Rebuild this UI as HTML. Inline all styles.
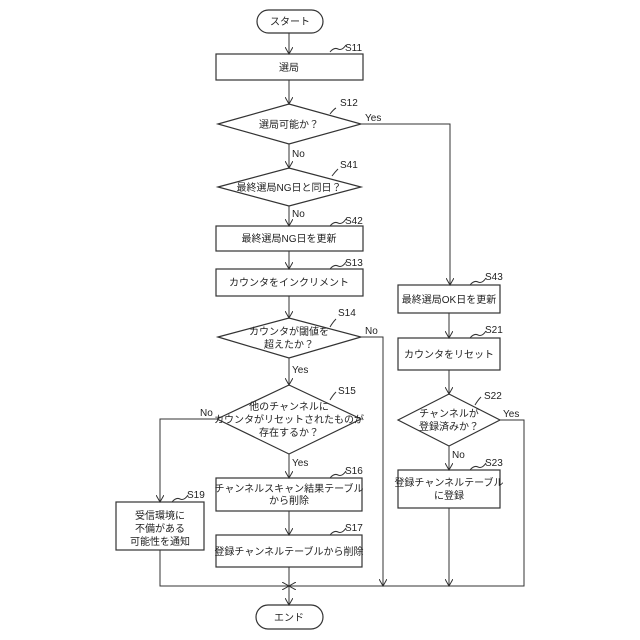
<!DOCTYPE html>
<html><head><meta charset="utf-8"><style>body{margin:0;background:#fff}svg{display:block}text{font-family:"Liberation Sans","Noto Sans CJK JP",sans-serif;fill:#222}</style></head><body>
<svg width="640" height="640" viewBox="0 0 640 640" xmlns="http://www.w3.org/2000/svg">
<defs><marker id="a" markerWidth="8" markerHeight="8" refX="7" refY="4" orient="auto" markerUnits="userSpaceOnUse"><path d="M0,0 L7,4 L0,8" fill="none" stroke="#333" stroke-width="1"/></marker></defs>
<g fill="none" stroke="#333" stroke-width="1.2">
<rect x="257" y="10" width="66" height="23" rx="11.5"/>
<rect x="216" y="54" width="147" height="26"/>
<polygon points="218,124 289,104 361,124 289,144"/>
<polygon points="218,187 289,168 361,187 289,206"/>
<rect x="216" y="226" width="147" height="25"/>
<rect x="216" y="269" width="147" height="27"/>
<polygon points="218,337 289,318 361,337 289,358"/>
<polygon points="217,419 289,385 361,419 289,454"/>
<rect x="216" y="478" width="146" height="33"/>
<rect x="216" y="535" width="146" height="32"/>
<rect x="116" y="502" width="88" height="48"/>
<rect x="398" y="285" width="102" height="28"/>
<rect x="398" y="338" width="102" height="32"/>
<polygon points="398,420 449,394 500,420 449,446"/>
<rect x="398" y="470" width="102" height="38"/>
<rect x="256" y="605" width="67" height="24" rx="12"/>
</g>
<g fill="none" stroke="#333" stroke-width="1">
<line x1="289" y1="33" x2="289" y2="54" marker-end="url(#a)"/>
<line x1="289" y1="80" x2="289" y2="104" marker-end="url(#a)"/>
<line x1="289" y1="144" x2="289" y2="168" marker-end="url(#a)"/>
<line x1="289" y1="206" x2="289" y2="226" marker-end="url(#a)"/>
<line x1="289" y1="251" x2="289" y2="269" marker-end="url(#a)"/>
<line x1="289" y1="296" x2="289" y2="318" marker-end="url(#a)"/>
<line x1="289" y1="358" x2="289" y2="385" marker-end="url(#a)"/>
<line x1="289" y1="454" x2="289" y2="478" marker-end="url(#a)"/>
<line x1="289" y1="511" x2="289" y2="535" marker-end="url(#a)"/>
<line x1="289" y1="567" x2="289" y2="605" marker-end="url(#a)"/>
<polyline points="361,124 450,124 450,285" marker-end="url(#a)"/>
<line x1="449" y1="313" x2="449" y2="338" marker-end="url(#a)"/>
<line x1="449" y1="370" x2="449" y2="394" marker-end="url(#a)"/>
<line x1="449" y1="446" x2="449" y2="470" marker-end="url(#a)"/>
<line x1="449" y1="508" x2="449" y2="586" marker-end="url(#a)"/>
<polyline points="361,337 383,337 383,586" marker-end="url(#a)"/>
<polyline points="217,419 160,419 160,502" marker-end="url(#a)"/>
<polyline points="500,420 524,420 524,586 289,586" marker-end="url(#a)"/>
<polyline points="160,550 160,586 289,586" marker-end="url(#a)"/>
<path d="M330,52 q4,-5 8,-3 t8,-4"/><path d="M330,114 q4,-5 6,-6"/>
<path d="M332,176 q3,-4 6,-7"/><path d="M330,226 q4,-5 8,-3 t8,-4"/>
<path d="M330,269 q4,-5 8,-3 t8,-4"/><path d="M330,327 q3,-5 6,-8"/>
<path d="M330,400 q3,-5 6,-8"/><path d="M330,478 q4,-5 8,-3 t8,-4"/>
<path d="M330,535 q4,-5 8,-3 t8,-4"/><path d="M172,502 q4,-5 8,-3 t8,-4"/>
<path d="M470,285 q4,-5 8,-3 t8,-4"/><path d="M470,338 q4,-5 8,-3 t8,-4"/>
<path d="M475,405 q3,-5 6,-8"/><path d="M470,470 q4,-5 8,-3 t8,-4"/>
</g>
<g font-size="10" text-anchor="middle">
<text x="290" y="25">スタート</text>
<text x="289" y="71">選局</text>
<text x="289" y="128">選局可能か？</text>
<text x="289" y="191">最終選局NG日と同日？</text>
<text x="289" y="242">最終選局NG日を更新</text>
<text x="289" y="286">カウンタをインクリメント</text>
<text x="289" y="335">カウンタが閾値を</text><text x="289" y="348">超えたか？</text>
<text x="289" y="410">他のチャンネルに</text><text x="289" y="423">カウンタがリセットされたものが</text><text x="289" y="436">存在するか？</text>
<text x="289" y="492">チャンネルスキャン結果テーブル</text><text x="289" y="504">から削除</text>
<text x="289" y="555">登録チャンネルテーブルから削除</text>
<text x="160" y="519">受信環境に</text><text x="160" y="532">不備がある</text><text x="160" y="545">可能性を通知</text>
<text x="449" y="303">最終選局OK日を更新</text>
<text x="449" y="358">カウンタをリセット</text>
<text x="449" y="417">チャンネルが</text><text x="449" y="430">登録済みか？</text>
<text x="449" y="486">登録チャンネルテーブル</text><text x="449" y="499">に登録</text>
<text x="289" y="621">エンド</text>
</g>
<g font-size="10">
<text x="345" y="51">S11</text><text x="340" y="106">S12</text><text x="340" y="168">S41</text>
<text x="345" y="224">S42</text><text x="345" y="266">S13</text><text x="338" y="316">S14</text>
<text x="338" y="394">S15</text><text x="345" y="474">S16</text><text x="345" y="531">S17</text>
<text x="187" y="498">S19</text><text x="485" y="280">S43</text><text x="485" y="333">S21</text>
<text x="484" y="399">S22</text><text x="485" y="466">S23</text>
<text x="365" y="121">Yes</text><text x="292" y="157">No</text><text x="292" y="217">No</text>
<text x="365" y="334">No</text><text x="292" y="373">Yes</text><text x="200" y="416">No</text>
<text x="292" y="466">Yes</text><text x="503" y="417">Yes</text><text x="452" y="458">No</text>
</g>
</svg>
</body></html>
